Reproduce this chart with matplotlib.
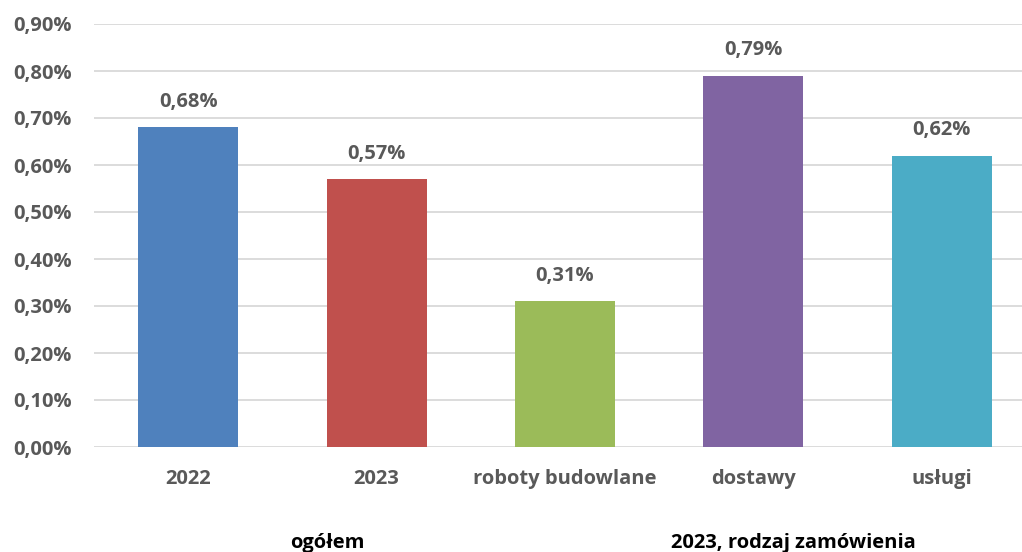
import numpy as np
import matplotlib
matplotlib.use("Agg")
import matplotlib.pyplot as plt
from matplotlib.ticker import FuncFormatter

categories = ["2022", "2023", "roboty budowlane", "dostawy", "usługi"]
values = [0.68, 0.57, 0.31, 0.79, 0.62]  # percent
colors = ["#4F81BD", "#C0504D", "#9BBB59", "#8064A2", "#4BACC6"]
groups = [("ogółem", 0.74), ("2023, rodzaj zamówienia", 3.21)]

TXT = "#595959"
FS = 14.5
plt.rcParams["font.family"] = ["Open Sans", "DejaVu Sans"]
plt.rcParams["font.weight"] = "bold"

fig = plt.figure(figsize=(10.22, 5.52), dpi=100)
# plot area runs a little past the right edge of the canvas
ax = fig.add_axes([94 / 1022, 1 - 447 / 552, 942 / 1022, 423 / 552])

x = np.arange(len(categories))
ax.bar(x, values, width=0.53, color=colors, zorder=2)

for xi, v in zip(x, values):
    ax.annotate(f"{v:.2f}%".replace(".", ","), (xi, v), xytext=(0, 11),
                textcoords="offset points", ha="center", va="bottom",
                fontsize=FS, fontweight="bold", color=TXT)

ax.set_xlim(-0.5, 4.5)
ax.set_ylim(0, 0.9)
ax.set_yticks(np.arange(0, 0.91, 0.1))
ax.yaxis.set_major_formatter(FuncFormatter(lambda v, _: f"{v:.2f}%".replace(".", ",")))
ax.set_xticks(x)
ax.set_xticklabels(categories)
ax.tick_params(axis="both", length=0, labelsize=FS, labelcolor=TXT)
ax.tick_params(axis="x", pad=16)
ax.tick_params(axis="y", pad=16)
for lab in ax.get_xticklabels() + ax.get_yticklabels():
    lab.set_fontweight("bold")

ax.grid(axis="y", color="#D9D9D9", lw=1.3, zorder=0)
for s in ax.spines.values():
    s.set_visible(False)

for name, gx in groups:
    ax.text(gx, -0.227, name, transform=ax.get_xaxis_transform(), ha="center",
            va="center", fontsize=FS, fontweight="bold", color="black")

fig.savefig("out.png", dpi=100)
